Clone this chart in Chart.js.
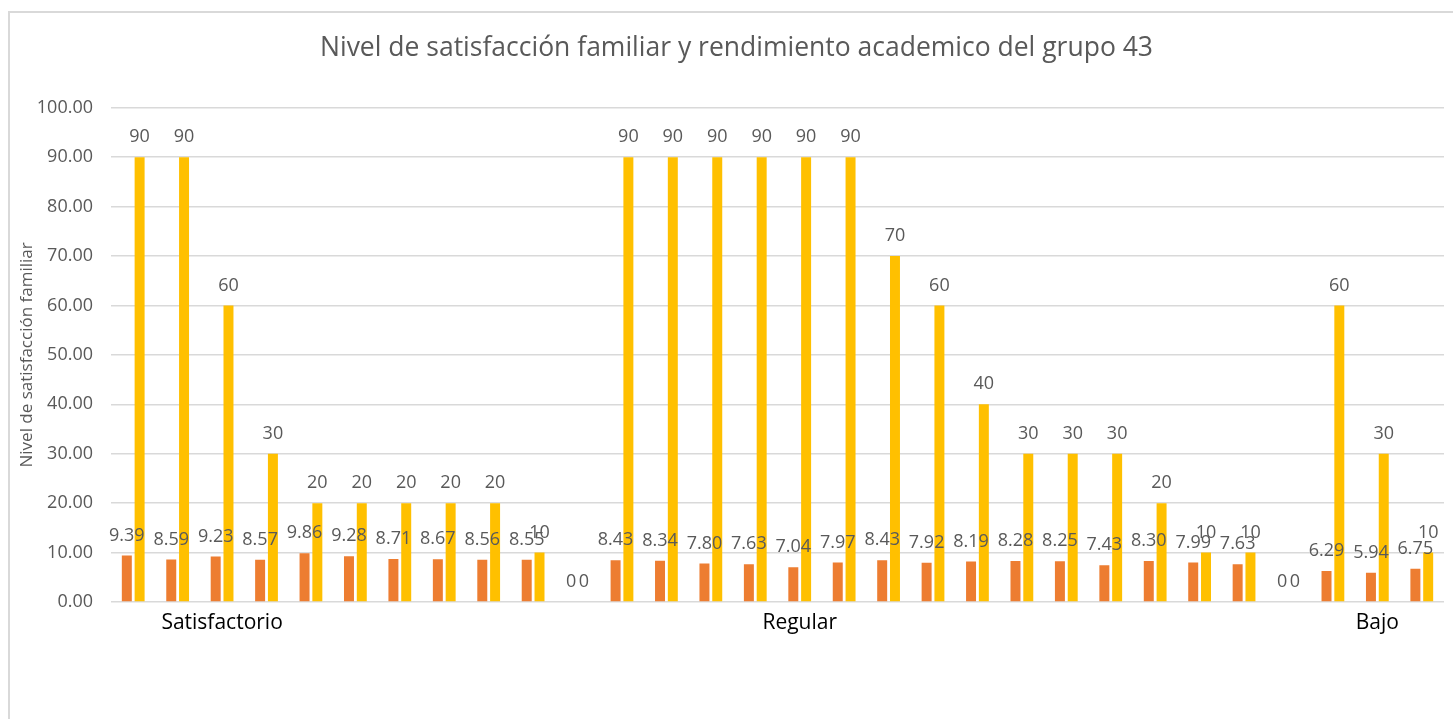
<!DOCTYPE html>
<html>
<head>
<meta charset="utf-8">
<script src="https://cdn.jsdelivr.net/npm/chart.js@4/dist/chart.umd.min.js"></script>
<style>
  html, body { margin: 0; padding: 0; background: #fff; }
  #wrap { position: relative; width: 1453px; height: 719px; overflow: hidden; }
  #frame { position: absolute; left: 8px; top: 11px; width: 1460px; height: 720px;
           border-left: 2px solid #D9D9D9; border-top: 2px solid #D9D9D9; pointer-events: none; }
  canvas { position: absolute; left: 0; top: 0; }
</style>
</head>
<body>
<div id="wrap">
  <canvas id="c" width="1453" height="719"></canvas>
  <div id="frame"></div>
</div>
<script>
const chartTitle = 'Nivel de satisfacción familiar y rendimiento academico del grupo 43';
const yAxisTitle = 'Nivel de satisfacción familiar';

const categories = [
  '', '', 'Satisfactorio', '', '', '', '', '', '', '',
  '',
  '', '', '', '', 'Regular', '', '', '', '', '', '', '', '', '', '',
  '',
  '', 'Bajo', ''
];

const rendimiento = [
  9.39, 8.59, 9.23, 8.57, 9.86, 9.28, 8.71, 8.67, 8.56, 8.55,
  0,
  8.43, 8.34, 7.80, 7.63, 7.04, 7.97, 8.43, 7.92, 8.19, 8.28, 8.25, 7.43, 8.30, 7.99, 7.63,
  0,
  6.29, 5.94, 6.75
];

const satisfaccion = [
  90, 90, 60, 30, 20, 20, 20, 20, 20, 10,
  0,
  90, 90, 90, 90, 90, 90, 70, 60, 40, 30, 30, 30, 20, 10, 10,
  0,
  60, 30, 10
];

const yTicks = [0, 10, 20, 30, 40, 50, 60, 70, 80, 90, 100];

const FONT = "'Open Sans', 'Noto Sans', sans-serif";
const GRAY = '#595959';

const valueLabels = {
  id: 'valueLabels',
  afterDatasetsDraw(chart) {
    const ctx = chart.ctx;
    ctx.save();
    ctx.font = '18px ' + FONT;
    ctx.fillStyle = GRAY;
    ctx.textAlign = 'center';
    ctx.textBaseline = 'middle';
    chart.data.datasets.forEach((ds, di) => {
      const meta = chart.getDatasetMeta(di);
      meta.data.forEach((bar, i) => {
        const v = ds.data[i];
        const txt = di === 0 ? (v === 0 ? '0' : v.toFixed(2)) : String(v);
        ctx.fillText(txt, bar.x, bar.y - 20);
      });
    });
    ctx.restore();
  }
};

new Chart(document.getElementById('c'), {
  type: 'bar',
  data: {
    labels: categories,
    datasets: [
      { label: 'Rendimiento académico', data: rendimiento, backgroundColor: '#ED7D31',
        categoryPercentage: 0.576, barPercentage: 0.78 },
      { label: 'Satisfacción familiar', data: satisfaccion, backgroundColor: '#FFC000',
        categoryPercentage: 0.576, barPercentage: 0.78 }
    ]
  },
  options: {
    responsive: false,
    animation: false,
    layout: { padding: { left: 29, right: 9, top: 0, bottom: 77 } },
    plugins: {
      legend: { display: false },
      tooltip: { enabled: false },
      title: {
        display: true,
        text: chartTitle,
        color: GRAY,
        font: { family: FONT, size: 26.5, weight: 'normal' },
        padding: { top: 33, bottom: 43 }
      }
    },
    scales: {
      x: {
        grid: { display: false, drawTicks: false },
        border: { display: false },
        ticks: {
          autoSkip: false, maxRotation: 0, minRotation: 0,
          color: '#000000', padding: 8,
          font: { family: FONT, size: 21 }
        },
        afterFit(scale) { scale.height = 40; }
      },
      y: {
        min: 0, max: 100,
        afterBuildTicks(scale) { scale.ticks = yTicks.map(v => ({ value: v })); },
        grid: { color: '#D9D9D9', lineWidth: 1.5, drawTicks: false },
        border: { display: false },
        ticks: {
          color: GRAY, padding: 18,
          font: { family: FONT, size: 18 },
          callback: v => Number(v).toFixed(2)
        },
        title: {
          display: true, text: yAxisTitle, color: GRAY,
          font: { family: FONT, size: 17 },
          padding: { top: -12, bottom: 0 }
        },
        afterFit(scale) { scale.width = 82; }
      }
    }
  },
  plugins: [valueLabels]
});
</script>
</body>
</html>
